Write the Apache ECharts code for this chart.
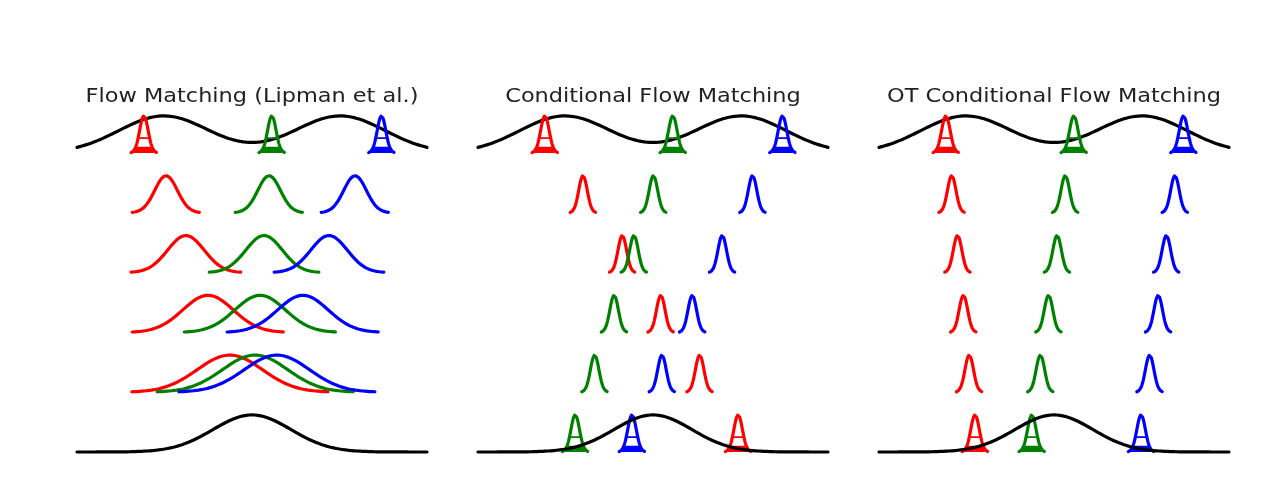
<!DOCTYPE html>
<html><head><meta charset="utf-8">
<script src="https://cdn.jsdelivr.net/npm/echarts@6/dist/echarts.min.js"></script>
<style>html,body{margin:0;padding:0;background:#fff}#c{width:1268px;height:492px}</style>
</head><body><div id="c"></div>
<script>
// ---- data (x in units of the noise std; rows listed top -> bottom) ----
const titles = ['Flow Matching (Lipman et al.)', 'Conditional Flow Matching', 'OT Conditional Flow Matching'];
const colorNames = ['red', 'green', 'blue'];
const rowLevels = [5, 4, 3, 2, 1, 0];          // baseline level of each row
// top row: target mixture (two components) and three data samples x1
const mixMeans = [-2.27, 2.27];
const mixSigma = 1.15;
const sampleSigma = 0.11;
// bottom row: source noise N(0,1)
const noiseMean = 0;
const noiseSigma = 1;
// Panel 1 (Flow Matching): means and std per row (rows 0..4)
const fmRed   = [-2.78, -2.21, -1.70, -1.13, -0.57];
const fmGreen = [0.51, 0.44, 0.31, 0.21, 0.08];
const fmBlue  = [3.33, 2.65, 1.98, 1.31, 0.64];
const fmSigma = [0.11, 0.29, 0.47, 0.65, 0.84];
// Panel 2 (Conditional FM): means per row (rows 0..5), std constant
const cfmRed   = [-2.78, -1.80, -0.79, 0.20, 1.20, 2.19];
const cfmGreen = [0.51, 0.01, -0.49, -1.00, -1.50, -2.00];
const cfmBlue  = [3.33, 2.56, 1.78, 1.01, 0.23, -0.54];
// Panel 3 (OT CFM): means per row (rows 0..5)
const otRed   = [-2.78, -2.63, -2.48, -2.33, -2.18, -2.03];
const otGreen = [0.51, 0.29, 0.08, -0.14, -0.35, -0.57];
const otBlue  = [3.33, 3.11, 2.89, 2.68, 2.46, 2.24];

const COLORS = {red: '#ff0000', green: '#008000', blue: '#0000ff'};
const X_MIN = -4.5, X_MAX = 4.5;
const PEAK = 0.62;       // drawn height of each normalised curve (in row units)
const FILL = 0.14;       // filled base portion of sample peaks
const BAR = 0.4;         // crossbar level inside sample peaks
const LW = 3.2;

function g(x, m, s) { return Math.exp(-0.5 * ((x - m) / s) * ((x - m) / s)); }
function curve(fn, lo, hi, base, clip) {
  const n = 240, pts = [];
  for (let i = 0; i <= n; i++) {
    const x = lo + (hi - lo) * i / n;
    let v = fn(x);
    if (clip !== undefined) v = Math.min(v, clip);
    pts.push([x, base + PEAK * v]);
  }
  return pts;
}

const series = [];
function line(gi, data, color, w, z) {
  series.push({type: 'line', xAxisIndex: gi, yAxisIndex: gi, data, showSymbol: false, symbol: 'none',
    silent: true, animation: false, z: z || 2, lineStyle: {color, width: w, cap: 'round', join: 'round'}});
}
function gauss(gi, m, s, base, color, w, z) {
  line(gi, curve(x => g(x, m, s), Math.max(X_MIN, m - 3 * s), Math.min(X_MAX, m + 3 * s), base), color, w, z);
}
function samplePeak(gi, m, base, color, z) {
  const s = sampleSigma;
  gauss(gi, m, s, base, color, LW, z);
  series.push({type: 'line', xAxisIndex: gi, yAxisIndex: gi, showSymbol: false, symbol: 'none', silent: true,
    animation: false, z: z, data: curve(x => g(x, m, s), m - 3 * s, m + 3 * s, base, FILL),
    lineStyle: {width: 2, color}, areaStyle: {color, opacity: 1, origin: base}});
  const d = s * Math.sqrt(2 * Math.log(1 / BAR));
  line(gi, [[m - d, base + PEAK * BAR], [m + d, base + PEAK * BAR]], color, 1.8, z);
}
function mixture(x) {
  let v = 0; mixMeans.forEach(m => v += g(x, m, mixSigma));
  return v;
}
function topRow(gi) {
  let mx = 0; for (let x = X_MIN; x <= X_MAX; x += 0.01) mx = Math.max(mx, mixture(x));
  line(gi, curve(x => mixture(x) / mx, X_MIN, X_MAX, rowLevels[0]), '#000', LW, 1);
}
function bottomNoise(gi, z) {
  line(gi, curve(x => g(x, noiseMean, noiseSigma), X_MIN, X_MAX, rowLevels[5]), '#000', LW, z);
}

// Panel 1
{
  const gi = 0, means = [fmRed, fmGreen, fmBlue];
  topRow(gi);
  means.forEach((arr, ci) => samplePeak(gi, arr[0], rowLevels[0], COLORS[colorNames[ci]], 3));
  for (let r = 1; r < 5; r++) means.forEach((arr, ci) => gauss(gi, arr[r], fmSigma[r], rowLevels[r], COLORS[colorNames[ci]], LW, 2));
  bottomNoise(gi, 4);
}
// Panels 2 and 3
[[cfmRed, cfmGreen, cfmBlue], [otRed, otGreen, otBlue]].forEach((means, k) => {
  const gi = k + 1;
  topRow(gi);
  means.forEach((arr, ci) => samplePeak(gi, arr[0], rowLevels[0], COLORS[colorNames[ci]], 3));
  for (let r = 1; r < 5; r++) means.forEach((arr, ci) => gauss(gi, arr[r], sampleSigma, rowLevels[r], COLORS[colorNames[ci]], LW, 2));
  means.forEach((arr, ci) => samplePeak(gi, arr[5], rowLevels[5], COLORS[colorNames[ci]], 2));
  bottomNoise(gi, 4);
});

const grids = [], xAxes = [], yAxes = [], graphics = [];
for (let i = 0; i < 3; i++) {
  const left = 77 + 401 * i;
  grids.push({left, top: 100, width: 350, height: 360, containLabel: false});
  xAxes.push({type: 'value', gridIndex: i, min: X_MIN, max: X_MAX, show: false});
  yAxes.push({type: 'value', gridIndex: i, min: -0.134, max: 5.886, show: false});
  graphics.push({type: 'text', x: left + 175, y: 97, scaleX: 1.15, silent: true,
    style: {text: titles[i], fill: '#222', font: '19.5px "DejaVu Sans"', align: 'center', verticalAlign: 'middle'}});
}

const chart = echarts.init(document.getElementById('c'), null, {renderer: 'canvas'});
chart.setOption({backgroundColor: '#fff', animation: false, grid: grids, xAxis: xAxes, yAxis: yAxes, series, graphic: graphics});
</script></body></html>
